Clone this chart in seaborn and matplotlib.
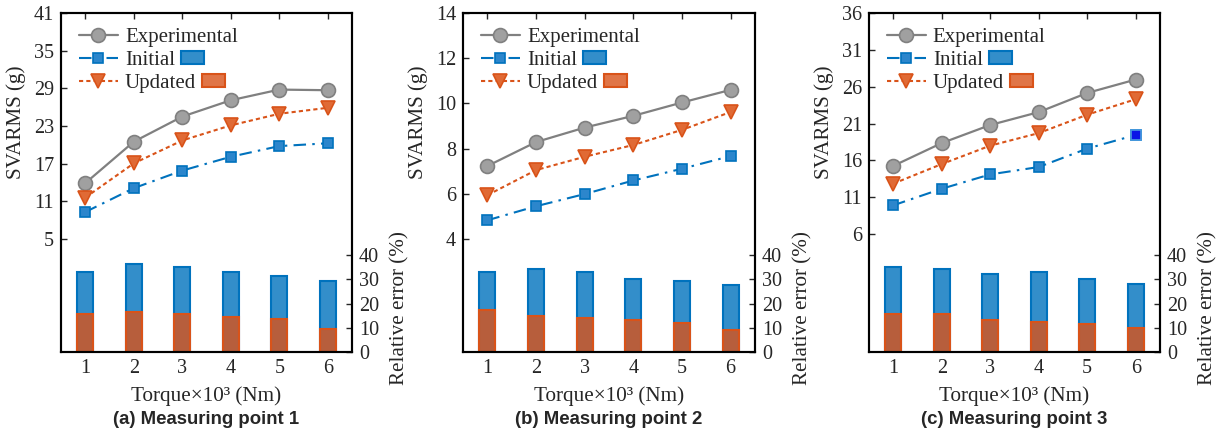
import matplotlib
matplotlib.use("Agg")
import matplotlib.pyplot as plt
import seaborn as sns
from matplotlib.patches import Rectangle
from matplotlib.colors import to_rgba

# ---------------- data ----------------
torque = [1, 2, 3, 4, 5, 6]

exp_a = [13.9, 20.5, 24.5, 27.1, 28.8, 28.7]
init_a = [9.3, 13.1, 15.9, 18.1, 19.8, 20.25]
upd_a = [11.6, 17.05, 20.7, 23.1, 24.95, 25.9]
err_init_a = [33.2, 36.2, 35.2, 33.2, 31.3, 29.3]
err_upd_a = [15.6, 16.4, 15.6, 14.6, 13.6, 9.5]

exp_b = [7.23, 8.29, 8.93, 9.45, 10.04, 10.6]
init_b = [4.83, 5.45, 5.99, 6.59, 7.11, 7.67]
upd_b = [5.94, 7.05, 7.64, 8.16, 8.83, 9.62]
err_init_b = [33.0, 34.2, 33.0, 30.3, 29.2, 27.6]
err_upd_b = [17.2, 14.8, 14.2, 13.1, 12.0, 8.9]

exp_c = [15.25, 18.35, 20.8, 22.55, 25.15, 26.97]
init_c = [9.9, 12.15, 14.1, 15.1, 17.6, 19.45]
upd_c = [12.84, 15.5, 18.0, 19.7, 22.2, 24.3]
err_init_c = [35.1, 34.3, 32.1, 33.1, 30.2, 28.0]
err_upd_c = [15.9, 15.9, 13.4, 12.4, 11.7, 9.8]

yticks_a = [5, 11, 17, 23, 29, 35, 41]
yticks_b = [4, 6, 8, 10, 12, 14]
yticks_c = [6, 11, 16, 21, 26, 31, 36]
err_ticks = [0, 10, 20, 30, 40]

captions = ["(a) Measuring point 1", "(b) Measuring point 2", "(c) Measuring point 3"]
series_labels = ["Experimental", "Initial", "Updated"]

# ---------------- style ----------------
sns.set_style("white")
plt.rcParams["font.family"] = ["Liberation Serif", "DejaVu Serif"]
plt.rcParams["axes.linewidth"] = 1.5

GRAY = "#808080"
GRAY_FACE = "#a0a0a0"
BLUE = "#0072BD"
BLUE_FACE = "#2c86cc"
ORANGE = "#D95319"
ORANGE_FACE = "#e06a35"
FS = 14.5
LAB_FS = 15.2
LEG_FS = 15

fig = plt.figure(figsize=(12.16, 4.33), dpi=100)
positions = [
    [0.0502, 0.187, 0.2393, 0.783],
    [0.3808, 0.187, 0.2401, 0.783],
    [0.7146, 0.187, 0.2393, 0.783],
]
ylims = [(-13, 41), (-1, 14), (-10, 36)]
yticks_all = [yticks_a, yticks_b, yticks_c]
panels = [
    (exp_a, init_a, upd_a, err_init_a, err_upd_a),
    (exp_b, init_b, upd_b, err_init_b, err_upd_b),
    (exp_c, init_c, upd_c, err_init_c, err_upd_c),
]

axes = []
for i, (exp, ini, upd, e_ini, e_upd) in enumerate(panels):
    ax = fig.add_axes(positions[i])
    ax2 = ax.twinx()
    ax2.set_position(positions[i])

    # bars (relative error) on the right axis
    sns.barplot(x=torque, y=e_ini, ax=ax2, native_scale=True, width=0.33,
                color=BLUE, saturation=1, edgecolor=BLUE, linewidth=1.5,
                errorbar=None)
    n_ini = len(ax2.patches)
    sns.barplot(x=torque, y=e_upd, ax=ax2, native_scale=True, width=0.33,
                color=ORANGE, saturation=1, edgecolor=ORANGE, linewidth=1.5,
                errorbar=None)
    for k, p in enumerate(ax2.patches):
        base = BLUE if k < n_ini else ORANGE
        p.set_facecolor(to_rgba(base, 0.8))
        p.set_edgecolor(base)

    # lines on the left axis
    sns.lineplot(x=torque, y=exp, ax=ax, color=GRAY, linewidth=1.6,
                 marker="o", markersize=10, markerfacecolor=GRAY_FACE,
                 markeredgecolor=GRAY, markeredgewidth=1.2, errorbar=None,
                 label=series_labels[0])
    sns.lineplot(x=torque, y=ini, ax=ax, color=BLUE, linewidth=1.5,
                 linestyle=(0, (6, 3, 1.2, 3)), marker="s", markersize=7,
                 markerfacecolor=BLUE_FACE, markeredgecolor=BLUE,
                 markeredgewidth=1.2, errorbar=None, label=series_labels[1])
    sns.lineplot(x=torque, y=upd, ax=ax, color=ORANGE, linewidth=1.5,
                 linestyle=(0, (2, 1.5)), marker="v", markersize=10,
                 markerfacecolor=ORANGE_FACE, markeredgecolor=ORANGE,
                 markeredgewidth=1.2, errorbar=None, label=series_labels[2])
    if i == 2:
        ax.plot(torque[-1], ini[-1], linestyle="none", marker="s", markersize=7,
                markerfacecolor="#0a14e6", markeredgecolor="#4a9be0",
                markeredgewidth=1.2)

    # limits and ticks
    for a in (ax, ax2):
        a.set_xlim(0.5, 6.5)
    ax.set_xticks(torque)
    ax.set_xticklabels([str(t) for t in torque])
    ax.set_ylim(*ylims[i])
    ax.set_yticks(yticks_all[i])
    ax2.set_ylim(0, 140)
    ax2.set_yticks(err_ticks)
    ax.tick_params(axis="both", direction="in", length=4, width=1,
                   labelsize=FS, top=True, right=False, pad=5)
    ax2.tick_params(axis="y", direction="in", length=4, width=1,
                    labelsize=FS, right=True, pad=5)
    ax2.tick_params(axis="x", bottom=False, top=False, labelbottom=False)
    for a in (ax, ax2):
        for s in a.spines.values():
            s.set_linewidth(1.5)
            s.set_color("black")
            s.set_visible(True)

    ax.set_xlabel("Torque×10³ (Nm)", fontsize=LAB_FS, labelpad=6)
    ax.set_ylabel("SVARMS (g)", fontsize=LAB_FS)
    ax.yaxis.set_label_coords(-0.12, 0.678)
    ax2.set_ylabel("Relative error (%)", fontsize=LAB_FS)
    ax2.yaxis.set_label_coords(1.132, 0.13)
    ax2.set_xlabel("")

    # legend
    leg = ax.legend(loc="upper left", bbox_to_anchor=(0.062, 0.958),
                    frameon=False, fontsize=LEG_FS, handlelength=1.85,
                    handletextpad=0.35, labelspacing=0.17, borderpad=0,
                    borderaxespad=0)
    ax.set_zorder(ax2.get_zorder() + 1)
    ax.patch.set_visible(False)

    cx = positions[i][0] + positions[i][2] / 2
    fig.text(cx, 0.031, captions[i], ha="center", va="center", fontsize=13.4,
             fontweight="bold", family=["Liberation Sans", "DejaVu Sans"])
    axes.append((ax, leg))

# legend patches for bars, placed after the legend texts
fig.canvas.draw()
renderer = fig.canvas.get_renderer()
for ax, leg in axes:
    texts = leg.get_texts()
    lines = leg.get_lines()
    inv = ax.transAxes.inverted()
    for idx, base in ((1, BLUE), (2, ORANGE)):
        tb = texts[idx].get_window_extent(renderer)
        lb = lines[idx].get_window_extent(renderer)
        yc = (lb.y0 + lb.y1) / 2
        x0, y0 = inv.transform((tb.x1 + 6, yc - 6.5))
        x1, y1 = inv.transform((tb.x1 + 6 + 23, yc + 6.5))
        ax.add_patch(Rectangle((x0, y0), x1 - x0, y1 - y0,
                               transform=ax.transAxes, clip_on=False,
                               facecolor=to_rgba(base, 0.8), edgecolor=base,
                               linewidth=1.5, zorder=10))

fig.savefig("out.png", dpi=100)
